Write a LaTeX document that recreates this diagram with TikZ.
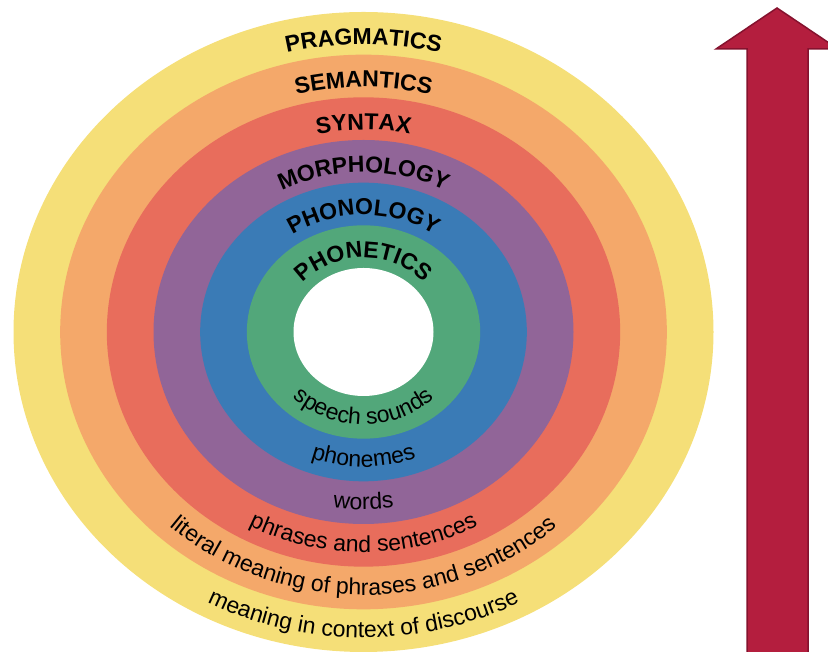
\documentclass[tikz,border=0pt]{standalone}
\usepackage{fontspec}
\setmainfont{Liberation Sans}
\usetikzlibrary{decorations.text}
\definecolor{cyel}{HTML}{F5DF78}
\definecolor{cora}{HTML}{F4A86A}
\definecolor{cred}{HTML}{E86D5C}
\definecolor{cpur}{HTML}{916598}
\definecolor{cblu}{HTML}{3A7BB6}
\definecolor{cgre}{HTML}{52A77A}
\definecolor{carrow}{HTML}{B41E3E}
\definecolor{carrowd}{HTML}{85122E}
\newcommand\toplbl{\fontsize{23}{27}\selectfont\bfseries}
\newcommand\botlbl{\fontsize{23}{27}\selectfont}
\tikzset{
  toptext/.style={decorate, decoration={text along path, text align=center, text={|\toplbl|#1}}},
  bottext/.style={decorate, decoration={text along path, text align=center, text={|\botlbl|#1}}},
  ring/.style={fill=#1},
  bigarrow/.style={fill=carrow, draw=carrowd, line width=1.5pt, line join=miter}
}
\newcommand\toplabel[3]{\path[toptext={#3}] ({363.5-#1},320) arc[start angle=180,end angle=0,x radius=#1pt,y radius=#2pt];}
\newcommand\botlabel[3]{\path[bottext={#3}] ({363.5-#1},320) arc[start angle=180,end angle=360,x radius=#1pt,y radius=#2pt];}
\begin{document}
\begin{tikzpicture}[x=1pt,y=1pt]
\useasboundingbox (0,0) rectangle (828,652);
\clip (0,0) rectangle (828,652);
\coordinate (c) at (363.5,320);
\fill[ring=cyel] (c) ellipse [x radius=350pt, y radius=320pt];
\fill[ring=cora] (c) ellipse [x radius=303.33pt, y radius=277.33pt];
\fill[ring=cred] (c) ellipse [x radius=256.67pt, y radius=234.67pt];
\fill[ring=cpur] (c) ellipse [x radius=210pt, y radius=192pt];
\fill[ring=cblu] (c) ellipse [x radius=163.33pt, y radius=149.33pt];
\fill[ring=cgre] (c) ellipse [x radius=116.67pt, y radius=106.67pt];
\fill[ring=white] (c) ellipse [x radius=70pt, y radius=64pt];
% top labels
\toplabel{314.7}{287.7}{PRAGMATICS}
\toplabel{268}{245}{SEMANTICS}
\toplabel{221.3}{202.3}{SYNTAX}
\toplabel{174.7}{159.7}{MORPHOLOGY}
\toplabel{128}{117}{PHONOLOGY}
\toplabel{81.3}{74.3}{PHONETICS}
% bottom labels
\botlabel{100.9}{92.3}{speech sounds}
\botlabel{147.6}{135}{phonemes}
\botlabel{194.3}{177.7}{words}
\botlabel{240.9}{220.3}{phrases and sentences}
\botlabel{287.6}{263}{literal meaning of phrases and sentences}
\botlabel{334.3}{305.7}{meaning in context of discourse}
% arrow
\draw[bigarrow] (716,603) -- (777,644) -- (838,603) -- (808,603) -- (808,-5) -- (747,-5) -- (747,603) -- cycle;
\end{tikzpicture}
\end{document}
